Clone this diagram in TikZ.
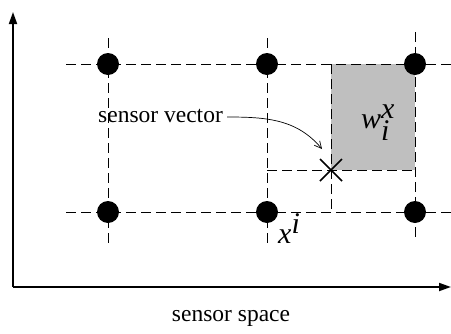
\documentclass[tikz,border=0pt]{standalone}
\usepackage{fontspec}
\setmainfont{Liberation Serif}
\usetikzlibrary{arrows.meta}
\begin{document}
\begin{tikzpicture}[x=1pt,y=-1pt,
  grid/.style={line width=0.8pt,dash pattern=on 10pt off 5pt},
  dot/.style={circle,fill=black,inner sep=0pt,minimum size=22pt},
  axis/.style={line width=1.8pt,-{Triangle[length=12pt,width=8pt]}},
  lbl/.style={font=\fontsize{23.5}{28}\selectfont,inner sep=0pt},
  mlbl/.style={font=\fontsize{30}{36}\selectfont,inner sep=0pt}]
\useasboundingbox (0,0) rectangle (451,333);
% gray cell
\fill[black!25] (331,64) rectangle (415,170);
% grid lines
\coordinate (h1a) at (66,64);  \coordinate (h1b) at (451,64);
\coordinate (h2a) at (66,212); \coordinate (h2b) at (451,212);
\coordinate (v1a) at (108,38); \coordinate (v1b) at (108,244);
\coordinate (v2a) at (267,38); \coordinate (v2b) at (267,244);
\coordinate (v3a) at (415,32); \coordinate (v3b) at (415,238);
\coordinate (mA) at (267,170); \coordinate (mB) at (415,170);
\coordinate (cA) at (331,64);  \coordinate (cB) at (331,212);
\draw[grid] (h1a) -- (h1b);
\draw[grid] (h2a) -- (h2b);
\draw[grid] (v1a) -- (v1b);
\draw[grid] (v2a) -- (v2b);
\draw[grid] (v3a) -- (v3b);
\draw[grid] (mA) -- (mB);
\draw[grid] (cA) -- (cB);
% dots
\node[dot] (d11) at (108,64) {};
\node[dot] (d12) at (267,64) {};
\node[dot] (d13) at (415,64) {};
\node[dot] (d21) at (108,212) {};
\node[dot] (d22) at (267,212) {};
\node[dot] (d23) at (415,212) {};
% sensor vector cross
\coordinate (sv) at (331,170);
\draw[line width=1.6pt] ([shift={(-11,-11)}]sv) -- ([shift={(11,11)}]sv)
                        ([shift={(-11,11)}]sv) -- ([shift={(11,-11)}]sv);
% axes
\coordinate (org) at (13,287);
\coordinate (ytop) at (13,12);
\coordinate (xend) at (451,287);
\draw[axis] (org) -- (ytop);
\draw[axis] (org) -- (xend);
% labels
\node[lbl,anchor=west] (svlab) at (98,116) {sensor vector};
\draw[line width=0.7pt,-{Straight Barb[length=7pt,width=7pt]}] (svlab.east) ++(4,1) coordinate (arst)
  to[out=0,in=130] ([shift={(-9,-21)}]sv);
\node[mlbl,anchor=base west] (w) at (361,128) {\textit{w}$_{\textit{i}}^{\textit{x}}$};
\node[mlbl,anchor=base west] (xi) at (278,243) {\textit{x}$^{\textit{i}}$};
\node[lbl] (ss) at (231,318) {sensor space};
\end{tikzpicture}
\end{document}
